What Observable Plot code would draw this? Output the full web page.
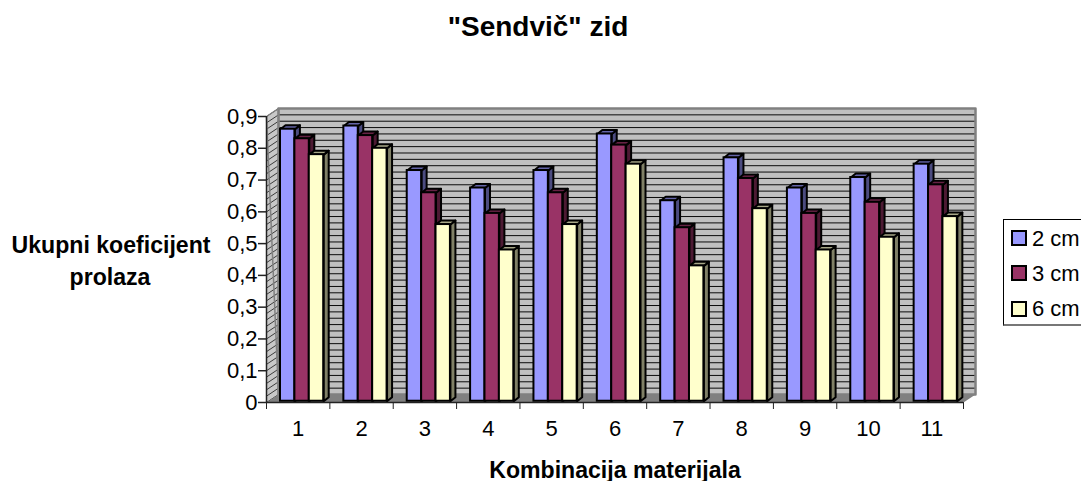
<!DOCTYPE html>
<html>
<head>
<meta charset="utf-8">
<script src="https://cdn.jsdelivr.net/npm/d3@7"></script>
<script src="https://cdn.jsdelivr.net/npm/@observablehq/plot@0.6"></script>
<style>
html,body{margin:0;padding:0;background:#fff;overflow:hidden;width:1081px;height:481px}
#root{position:relative;width:1081px;height:481px;overflow:hidden;font-family:"Liberation Sans",Arial,sans-serif;color:#000}
#root svg{position:absolute;left:0;top:0;overflow:visible}
.t{position:absolute;white-space:nowrap;font-weight:bold;text-align:center}
#legend{position:absolute;left:1003px;top:219px;width:120px;height:107px;border:1px solid #000;border-bottom:2px solid #777;border-right:none;background:#fff;box-sizing:border-box}
.sw{position:absolute;left:7px;width:16px;height:16px;border:2px solid #000;box-sizing:border-box}
.lt{position:absolute;left:28px;font-size:22px;line-height:20px;white-space:nowrap}
</style>
</head>
<body>
<div id="root"></div>
<script>
const categories = ["1","2","3","4","5","6","7","8","9","10","11"];
const seriesNames = ["2 cm","3 cm","6 cm"];
const values2 = [0.86,0.87,0.73,0.675,0.73,0.845,0.635,0.77,0.675,0.708,0.75];
const values3 = [0.83,0.84,0.66,0.595,0.66,0.81,0.55,0.705,0.595,0.63,0.685];
const values6 = [0.78,0.80,0.56,0.48,0.56,0.75,0.43,0.61,0.48,0.52,0.585];
const yTicks = [0,0.1,0.2,0.3,0.4,0.5,0.6,0.7,0.8,0.9];
const frontColors = ["#9999FF","#993366","#FFFFCC"];
const topColors = ["#6464a8","#662244","#a8a888"];
const sideColors = ["#4c4c80","#4d1a33","#808066"];

const W = 1081, H = 481, plotLeft = 266, plotRight = 963, plotTop = 116, plotBottom = 402;
const unitX = (plotRight - plotLeft) / categories.length, unitY = (plotBottom - plotTop) / 0.9;
// wall depth, and bar depth, in data units
const wallX = 12 / unitX, wallY = 8 / unitY;
const barX = 5 / unitX, barY = 4 / unitY;
const barW = 14.4 / unitX, barStart = 14 / unitX, base = 0.004;
const gridValues = d3.range(0, 0.9001, 0.02);
const allSeries = [values2, values3, values6];

const poly = pts => pts.concat([pts[0]]);
const polys = (list, opts) => Plot.line(
  list.flatMap((p, id) => poly(p).map(([x, y]) => ({x, y, id}))),
  {x: "x", y: "y", z: "id", curve: "linear", ...opts});

const marks = [];
// back wall
marks.push(Plot.rect([{}], {x1: wallX, x2: categories.length + wallX, y1: wallY, y2: 0.9 + wallY, fill: "#c0c0c0"}));
// side wall
marks.push(polys([[[0,0],[wallX,wallY],[wallX,0.9+wallY],[0,0.9]]], {fill: "#c8c8c8", stroke: "none"}));
// grid on the back wall and side wall
marks.push(Plot.ruleY(gridValues, {y: d => d + wallY, x1: wallX, x2: categories.length + wallX, stroke: "#000", strokeWidth: 1, strokeOpacity: 0.95}));
marks.push(Plot.link(gridValues, {x1: () => 0, y1: d => d, x2: () => wallX, y2: d => d + wallY, stroke: "#000", strokeWidth: 1, strokeOpacity: 0.7}));
// floor
marks.push(polys([[[0,0],[categories.length,0],[categories.length+wallX,wallY],[wallX,wallY]]], {fill: "#808080", stroke: "none"}));
// wall frame
marks.push(polys([[[wallX,wallY],[categories.length+wallX,wallY],[categories.length+wallX,0.9+wallY],[wallX,0.9+wallY]]], {stroke: "#808080", strokeWidth: 2.5, fill: "none"}));
marks.push(polys([[[wallX,wallY],[wallX,0.9+wallY],[0,0.9]]], {stroke: "#808080", strokeWidth: 1.5, fill: "none"}));
// bars
categories.forEach((c, i) => {
  allSeries.forEach((vals, s) => {
    const v = vals[i], x0 = i + barStart + s * barW, x1 = x0 + barW;
    marks.push(polys([[[x1,base],[x1+barX,base+barY],[x1+barX,v+barY],[x1,v]]], {fill: sideColors[s], stroke: "#000", strokeWidth: 2, strokeLinejoin: "round"}));
    marks.push(polys([[[x0,v],[x1,v],[x1+barX,v+barY],[x0+barX,v+barY]]], {fill: topColors[s], stroke: "#000", strokeWidth: 2, strokeLinejoin: "round"}));
    marks.push(Plot.rect([{}], {x1: x0, x2: x1, y1: base, y2: v, fill: frontColors[s], stroke: "#000", strokeWidth: 2}));
  });
});
// axes
marks.push(Plot.ruleX([0], {y1: 0, y2: 0.9, stroke: "#222", strokeWidth: 1.5}));
marks.push(Plot.ruleY([0], {x1: 0, x2: categories.length, stroke: "#222", strokeWidth: 1.5}));
marks.push(Plot.axisY({ticks: yTicks, tickSize: 8, tickPadding: 1, tickFormat: d => d === 0 ? "0" : d3.format(".1f")(d).replace(".", ","), label: null, fontSize: 22, stroke: "#222", strokeWidth: 1.5, color: "#000"}));
marks.push(Plot.axisX({ticks: d3.range(0, categories.length + 1), tickSize: 7, tickFormat: () => "", label: null, stroke: "#222", strokeWidth: 1}));
marks.push(Plot.text(categories, {x: (d, i) => i + 0.5, y: () => 0, text: d => d, dy: 26, fontSize: 22, fill: "#000"}));

const chart = Plot.plot({
  width: W, height: H,
  marginLeft: plotLeft, marginRight: W - plotRight, marginTop: plotTop, marginBottom: H - plotBottom,
  style: {fontFamily: '"Liberation Sans", Arial, sans-serif', overflow: "visible", background: "transparent"},
  x: {type: "linear", domain: [0, categories.length]},
  y: {type: "linear", domain: [0, 0.9]},
  marks
});
const root = document.getElementById("root");
root.appendChild(chart);

function label(text, cx, cy, size) {
  const d = document.createElement("div");
  d.className = "t"; d.textContent = text;
  d.style.fontSize = size + "px"; d.style.left = cx + "px"; d.style.top = cy + "px";
  d.style.transform = "translate(-50%,-50%)";
  root.appendChild(d);
}
label('"Sendvič" zid', 538, 27, 28);
label("Ukupni koeficijent", 111, 245, 23.1);
label("prolaza", 110, 277, 23.1);
label("Kombinacija materijala", 615, 470, 23.1);

const legend = document.createElement("div");
legend.id = "legend";
seriesNames.forEach((n, i) => {
  const sw = document.createElement("div");
  sw.className = "sw"; sw.style.top = (10 + i * 35.4) + "px"; sw.style.background = frontColors[i];
  legend.appendChild(sw);
  const t = document.createElement("div");
  t.className = "lt"; t.textContent = n; t.style.top = (8.5 + i * 35.4) + "px";
  legend.appendChild(t);
});
root.appendChild(legend);
</script>
</body>
</html>
